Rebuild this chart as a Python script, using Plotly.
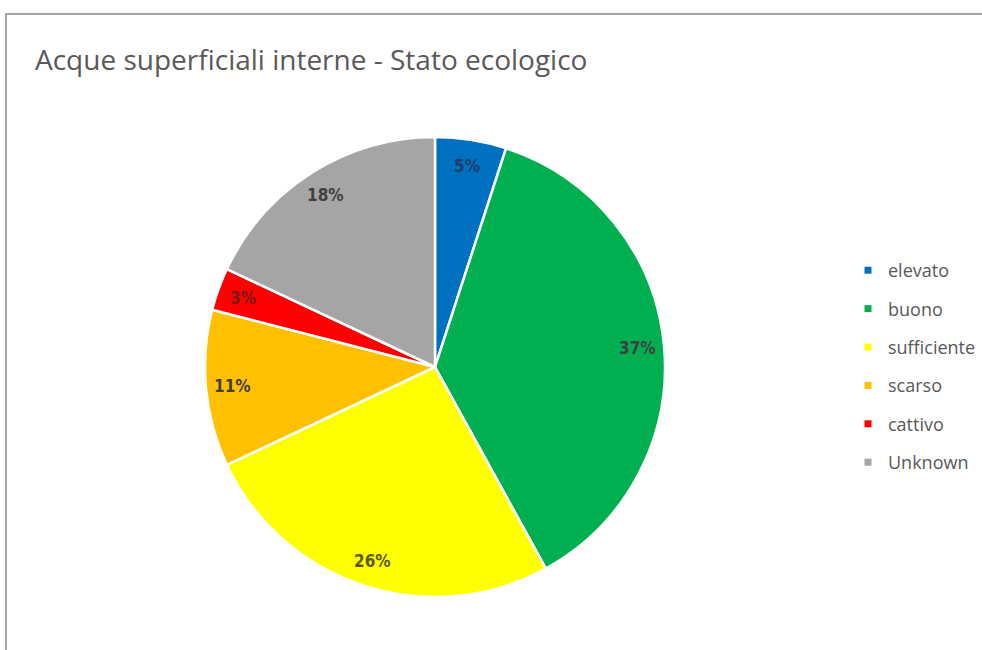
import math
import plotly.graph_objects as go

# Ecological status of inland surface waters (share of water bodies, %)
categories = ["elevato", "buono", "sufficiente", "scarso", "cattivo", "Unknown"]
shares = [5, 37, 26, 11, 3, 18]
colors = ["#0070C0", "#00B050", "#FFFF00", "#FFC000", "#FF0000", "#A5A5A5"]
label_colors = ["#1F3F66", "#3F3F3F", "#5A5A10", "#404040", "#7A1A1A", "#404040"]

W, H = 982, 650
cx, cy, R = 435, 367, 230  # pie centre and radius in pixels

fig = go.Figure()
fig.add_trace(go.Pie(
    labels=categories,
    values=shares,
    sort=False,
    direction="clockwise",
    rotation=0,
    marker=dict(colors=colors, line=dict(color="white", width=2.5)),
    textinfo="none",
    hoverinfo="label+percent",
    showlegend=False,
    domain=dict(x=[(cx - R) / W, (cx + R) / W], y=[1 - (cy + R) / H, 1 - (cy - R) / H]),
))

# Legend entries, one group each so the rows are spaced apart
for name, col in zip(categories, colors):
    fig.add_trace(go.Scatter(
        x=[None], y=[None], mode="markers", name=name, legendgroup=name,
        marker=dict(symbol="square", size=7, color=col),
    ))

# Percentage labels placed along each slice's mid angle
total = sum(shares)
cum = 0
for val, lc in zip(shares, label_colors):
    mid = (cum + val / 2) / total * 2 * math.pi
    cum += val
    r = 0.885 * R
    px = cx + r * math.sin(mid)
    py = cy - r * math.cos(mid)
    fig.add_annotation(
        x=px / W, y=1 - py / H, xref="paper", yref="paper",
        xanchor="center", yanchor="middle",
        text=f"{round(val / total * 100)}%", showarrow=False,
        font=dict(family="DejaVu Sans Condensed, Open Sans", size=17, color=lc, weight="bold"),
    )

# Chart-area frame
fig.add_shape(type="rect", xref="paper", yref="paper",
              x0=6 / W, x1=1.01, y0=-0.01, y1=1 - 14 / H,
              line=dict(color="#A6A6A6", width=2), fillcolor="rgba(0,0,0,0)")

fig.update_layout(
    width=W, height=H,
    margin=dict(l=0, r=0, t=0, b=0),
    paper_bgcolor="white", plot_bgcolor="white",
    title=dict(text="Acque superficiali interne - Stato ecologico",
               x=35 / W, xanchor="left", y=1 - 60 / H, yanchor="middle",
               font=dict(family="Open Sans", size=28, color="#595959")),
    xaxis=dict(visible=False), yaxis=dict(visible=False),
    legend=dict(x=848 / W, xanchor="left", y=1 - 252 / H, yanchor="top",
                font=dict(family="Open Sans", size=18, color="#595959"),
                tracegroupgap=12, itemwidth=30, bgcolor="rgba(0,0,0,0)"),
)

fig.write_html("out.html")
